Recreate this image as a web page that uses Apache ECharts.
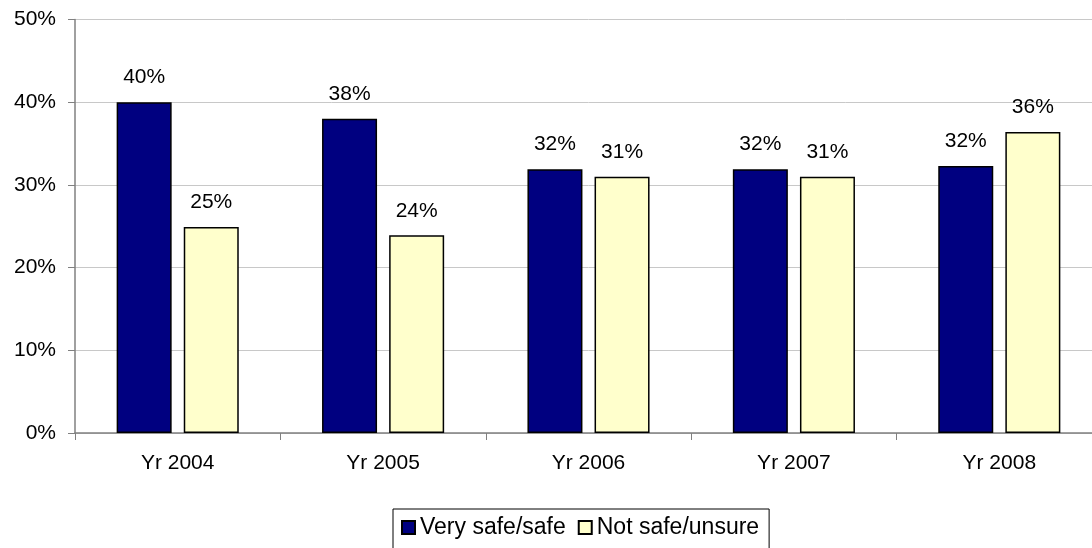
<!DOCTYPE html>
<html>
<head>
<meta charset="utf-8">
<script src="https://cdn.jsdelivr.net/npm/echarts@6/dist/echarts.min.js"></script>
<style>
html,body{margin:0;padding:0;background:#fff;overflow:hidden;width:1092px;height:548px;}
#c{width:1102px;height:548px;}
</style>
</head>
<body>
<div id="c"></div>
<script>
const categories = ['Yr 2004', 'Yr 2005', 'Yr 2006', 'Yr 2007', 'Yr 2008'];
const verySafe = [40, 38, 31.9, 31.9, 32.3];
const notSafe = [24.9, 23.9, 31.0, 31.0, 36.4];
const seriesNames = ['Very safe/safe', 'Not safe/unsure'];

const FONT = '"Liberation Sans", Arial, sans-serif';
const chart = echarts.init(document.getElementById('c'), null, {renderer: 'canvas'});
const labelCfg = {
  show: true, position: 'top', distance: 14,
  color: '#000', fontFamily: FONT, fontSize: 21,
  formatter: p => Math.round(p.value) + '%'
};
chart.setOption({
  animation: false,
  backgroundColor: '#fff',
  grid: {left: 75, right: 0, top: 19.5, bottom: 115, containLabel: false},
  legend: {
    left: 393, top: 509,
    padding: [7, 10, 10, 8],
    borderColor: '#000', borderWidth: 1,
    itemWidth: 13, itemHeight: 13, itemGap: 12,
    icon: 'rect',
    textStyle: {fontFamily: FONT, fontSize: 23, color: '#000'},
    data: seriesNames
  },
  xAxis: {
    type: 'category', data: categories,
    axisLine: {lineStyle: {color: '#808080', width: 1.5}},
    axisTick: {show: true, length: 7, alignWithLabel: false, lineStyle: {color: '#808080'}},
    axisLabel: {fontFamily: FONT, fontSize: 21, color: '#000', margin: 20},
    splitLine: {show: false}
  },
  yAxis: {
    type: 'value', min: 0, max: 50, interval: 10,
    axisLine: {show: true, lineStyle: {color: '#808080', width: 1.5}},
    axisTick: {show: true, length: 7, lineStyle: {color: '#808080'}},
    axisLabel: {fontFamily: FONT, fontSize: 21, color: '#000', margin: 19, formatter: v => v + '%'},
    splitLine: {show: true, lineStyle: {color: '#c8c8c8', width: 1}}
  },
  series: [
    {
      name: seriesNames[0], type: 'bar', data: verySafe,
      barWidth: 55, barGap: '22%',
      itemStyle: {color: '#000080', borderColor: '#000', borderWidth: 1.5},
      label: labelCfg
    },
    {
      name: seriesNames[1], type: 'bar', data: notSafe,
      barWidth: 55, barGap: '22%',
      itemStyle: {color: '#FFFFCC', borderColor: '#000', borderWidth: 1.5},
      label: labelCfg
    }
  ]
});
</script>
</body>
</html>
